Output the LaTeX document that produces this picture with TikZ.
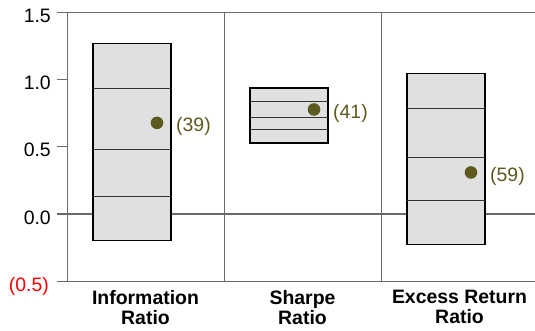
\documentclass[tikz,border=0pt]{standalone}
\usepackage{fontspec}
\setmainfont{Liberation Sans}
\definecolor{axisgray}{HTML}{6A6A6A}
\definecolor{boxgray}{HTML}{E0E0E0}
\definecolor{dotolive}{HTML}{5E5A1F}
\begin{document}
\begin{tikzpicture}[x=1bp,y=134bp,
  axis/.style={draw=axisgray,line width=1bp},
  box/.style={draw=black,fill=boxgray,line width=1.2bp},
  quart/.style={draw=black!80,line width=1bp},
  lab/.style={inner sep=0pt,font=\fontsize{19.5}{20}\selectfont}]
\useasboundingbox (0,-0.866) rectangle (535,1.597);
% frame and grid
\foreach \y in {-0.5,0,1.5} { \draw[axis] (57,\y) -- (535,\y); }
\foreach \y in {0.5,1} { \draw[axis] (57,\y) -- (67,\y); }
\foreach \x in {67,224,381} { \draw[axis] (\x,-0.5) -- (\x,1.5); }
\foreach \y/\t [count=\i] in {1.5/1.5,1/1.0,0.5/0.5,0/0.0} {
  \node[lab,anchor=base east,yshift=-10bp] (ylab\i) at (51,\y) {\t}; }
\node[lab,anchor=base east,yshift=-10bp,text=red] (ylab5) at (49,-0.5) {(0.5)};
% boxes, dots and ranks
\foreach \cx/\ytop/\yone/\ytwo/\ythr/\ybot/\ydot/\num in {
  145.5/1.27/0.94/0.48/0.13/-0.20/0.68/39,
  302.5/0.94/0.84/0.72/0.63/0.53/0.78/41,
  459.5/1.05/0.79/0.42/0.10/-0.23/0.31/59} {
  \draw[box] (\cx-52.5,\ybot) rectangle (\cx+25.5,\ytop);
  \foreach \q in {\yone,\ytwo,\ythr} { \draw[quart] (\cx-52.5,\q) -- (\cx+25.5,\q); }
  \fill[dotolive] (\cx+11.5,\ydot) circle (6.3bp);
  \node[lab,anchor=west,yshift=-4bp,text=dotolive] (rank\num) at (\cx+30.5,\ydot) {(\num)};
}
% category names
\foreach \cx/\t [count=\i] in {145.5/Information\\Ratio,302.5/Sharpe\\Ratio,459.5/Excess Return\\Ratio} {
  \node[lab,anchor=north,align=center,font=\fontsize{19.5}{20}\selectfont\bfseries] (cat\i) at (\cx,-0.567) {\t}; }
\end{tikzpicture}
\end{document}
